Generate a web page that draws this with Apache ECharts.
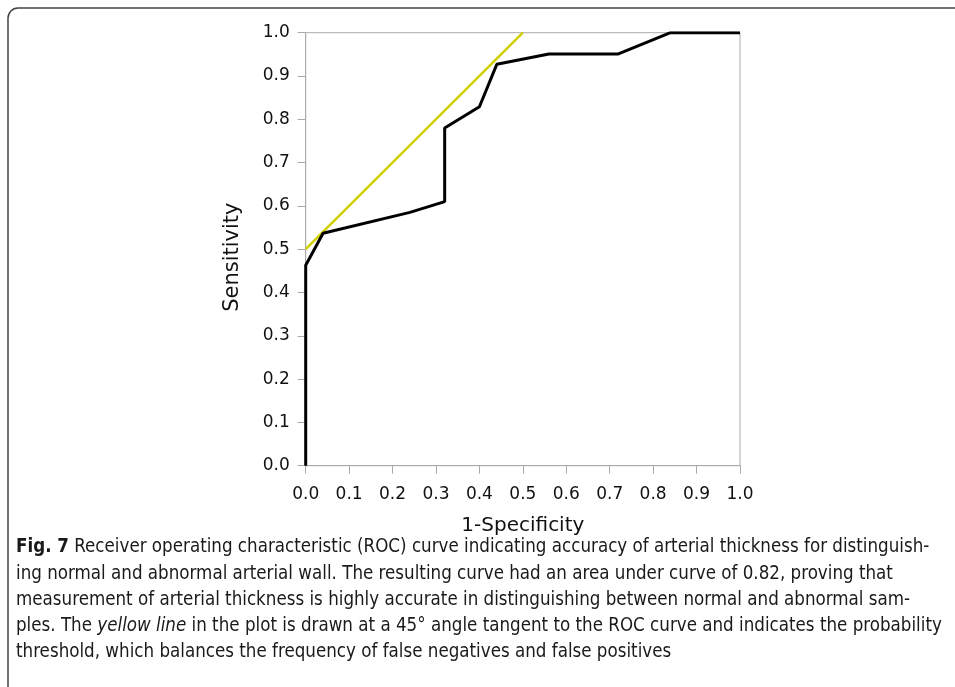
<!DOCTYPE html>
<html>
<head>
<meta charset="utf-8">
<script src="https://cdn.jsdelivr.net/npm/echarts@6/dist/echarts.min.js"></script>
<style>
html,body{margin:0;padding:0;background:#fff;}
#chart{width:955px;height:687px;}
</style>
</head>
<body>
<div id="chart"></div>
<script>
// ROC curve points (1-Specificity, Sensitivity)
const fpr = [0, 0, 0.04, 0.24, 0.32, 0.32, 0.40, 0.44, 0.56, 0.72, 0.84, 1.0];
const tpr = [0, 0.463, 0.537, 0.585, 0.610, 0.780, 0.829, 0.927, 0.951, 0.951, 1.0, 1.0];
// 45° tangent line
const tangentX = [0, 0.5];
const tangentY = [0.5, 1.0];
const xTicks = ['0.0','0.1','0.2','0.3','0.4','0.5','0.6','0.7','0.8','0.9','1.0'];
const xName = '1-Specificity';
const yName = 'Sensitivity';
const captionBold = 'Fig. 7';
const captionLines = [
  'Receiver operating characteristic (ROC) curve indicating accuracy of arterial thickness for distinguish-',
  'ing normal and abnormal arterial wall. The resulting curve had an area under curve of 0.82, proving that',
  'measurement of arterial thickness is highly accurate in distinguishing between normal and abnormal sam-',
  'ples. The |yellow line| in the plot is drawn at a 45° angle tangent to the ROC curve and indicates the probability',
  'threshold, which balances the frequency of false negatives and false positives'
];

const chart = echarts.init(document.getElementById('chart'));
const tickFont = {fontFamily:'DejaVu Sans', fontSize:17, color:'#111'};
const capFont = 'Liberation Sans Narrow, DejaVu Sans Condensed, sans-serif';
const capSize = 18.6;

const graphics = [{
  type:'rect', silent:true,
  shape:{x:8, y:8, width:1000, height:720, r:[10,0,0,0]},
  style:{fill:null, stroke:'#444', lineWidth:1.5}
}];
const lineTops = [550, 577, 603, 629, 655];
captionLines.forEach((ln, i) => {
  const parts = ln.split('|');
  const rich = {b:{fontWeight:'bold', fontFamily:capFont, fontSize:capSize, color:'#1a1a1a'},
                it:{fontStyle:'italic', fontFamily:capFont, fontSize:capSize, color:'#1a1a1a'},
                n:{fontFamily:capFont, fontSize:capSize, color:'#1a1a1a'}};
  let txt = '';
  if (i === 0) txt += '{b|' + captionBold + '}{n| ' + parts[0] + '}';
  else {
    parts.forEach((p, k) => { if (p) txt += (k % 2 ? '{it|' : '{n|') + p + '}'; });
  }
  graphics.push({type:'text', silent:true, left:16, top:lineTops[i]-12,
    style:{text:txt, rich:rich, font:capSize + 'px ' + capFont, fill:'#1a1a1a'}});
});

chart.setOption({
  animation:false,
  backgroundColor:'#fff',
  grid:{left:305.7, right:215, top:32.7, bottom:221.3, show:true, borderColor:'#aaa', borderWidth:1, containLabel:false},
  xAxis:{type:'value', min:0, max:1, interval:0.1,
    name:xName, nameLocation:'middle', nameGap:50,
    nameTextStyle:{fontFamily:'DejaVu Sans', fontSize:20, color:'#111'},
    axisLine:{show:true, lineStyle:{color:'#aaa', width:1}},
    axisTick:{show:true, length:8, lineStyle:{color:'#aaa'}},
    axisLabel:Object.assign({margin:20, formatter:(v)=>xTicks[Math.round(v*10)]}, tickFont),
    splitLine:{show:false}},
  yAxis:{type:'value', min:0, max:1, interval:0.1,
    name:yName, nameLocation:'middle', nameGap:63,
    nameTextStyle:{fontFamily:'DejaVu Sans', fontSize:21, color:'#111', padding:[0,16,0,0]},
    axisLine:{show:true, lineStyle:{color:'#aaa', width:1}},
    axisTick:{show:true, length:8, lineStyle:{color:'#aaa'}},
    axisLabel:Object.assign({margin:16, formatter:(v)=>xTicks[Math.round(v*10)]}, tickFont),
    splitLine:{show:false}},
  series:[
    {type:'line', data:tangentX.map((x,i)=>[x, tangentY[i]]), showSymbol:false,
     lineStyle:{color:'#d2cf00', width:2.5}, z:2},
    {type:'line', data:fpr.map((x,i)=>[x, tpr[i]]), showSymbol:false,
     lineStyle:{color:'#000', width:3}, z:3}
  ],
  graphic:graphics
});
</script>
</body>
</html>
